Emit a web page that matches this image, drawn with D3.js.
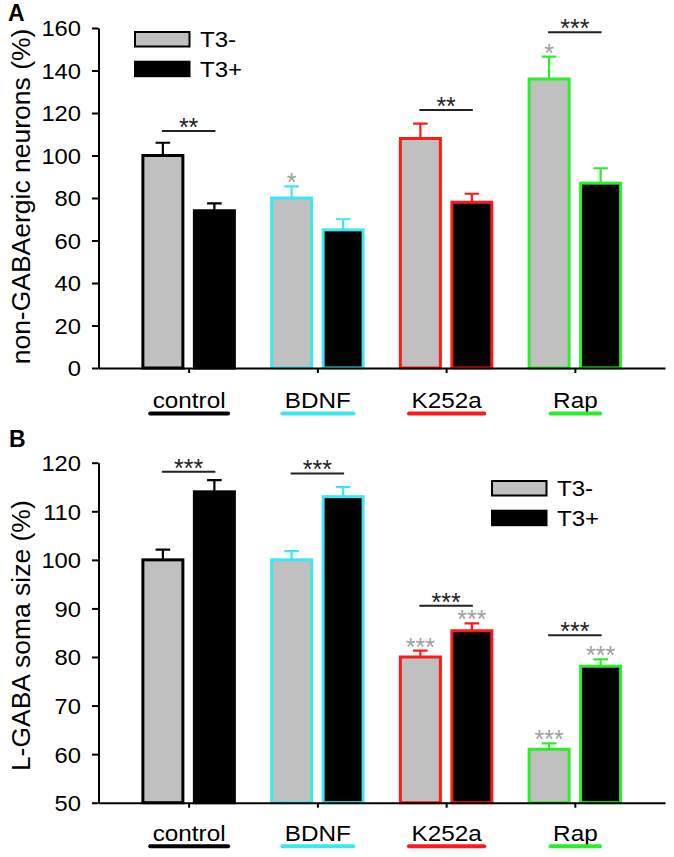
<!DOCTYPE html>
<html><head><meta charset="utf-8">
<script src="https://cdn.jsdelivr.net/npm/d3@7"></script>
<style>body{margin:0;background:#fff}svg{display:block}</style>
</head><body><svg id="c" width="674" height="857"></svg>
<script>
// ---------- data ----------
const categories = ["control", "BDNF", "K252a", "Rap"];
const seriesNames = ["T3-", "T3+"];

// Panel A: non-GABAergic neurons (%)
const aTicks = [0, 20, 40, 60, 80, 100, 120, 140, 160];
const aMinus = [100, 80, 108, 136];
const aMinusErr = [6, 5.5, 7, 10.5];
const aPlus = [74, 65, 78, 87];
const aPlusErr = [3.5, 5, 4, 7];
const aSigLabel = ["**", "", "**", "***"];
const aSigLevel = [111.5, null, 121.4, 158];
const aMinusVsCtrl = ["", "*", "", "*"];
const aPlusVsCtrl = ["", "", "", ""];

// Panel B: L-GABA soma size (%)
const bTicks = [50, 60, 70, 80, 90, 100, 110, 120];
const bMinus = [100, 100, 80, 61];
const bMinusErr = [2.1, 1.8, 1.3, 1.2];
const bPlus = [114, 113, 85.4, 78.1];
const bPlusErr = [2.4, 2, 1.5, 1.4];
const bSigLabel = ["***", "***", "***", "***"];
const bSigLevel = [118.15, 117.8, 90.55, 84.5];
const bMinusVsCtrl = ["", "", "***", "***"];
const bPlusVsCtrl = ["", "", "***", "***"];

// ---------- styles ----------
const FONT = "'Liberation Sans', Arial, Helvetica, sans-serif";
const catColor = {control: "#000000", BDNF: "#3ee6f0", K252a: "#ff1a1a", Rap: "#2bee2b"};
const seriesFill = {"T3-": "#c0c0c0", "T3+": "#000000"};
const SX = 1.1; // horizontal text stretch

const svg = d3.select("#c");
const x0 = d3.scalePoint().domain(categories).range([98.5, 665]).padding(0.7);
const x1 = d3.scaleBand().domain(seriesNames).range([-51.5, 51.5]);
const barW = 40;

function txt(parent, x, y, str, o = {}) {
  const t = parent.append("text")
    .attr("transform", `translate(${x},${y}) rotate(${o.rot || 0}) scale(${o.sx || SX},1)`)
    .attr("font-family", FONT)
    .attr("font-size", o.size || 21)
    .attr("font-weight", o.weight || "normal")
    .attr("fill", o.fill || "#000")
    .attr("text-anchor", o.anchor || "start")
    .text(str);
  return t;
}

function panel(o) {
  const g = svg.append("g");
  const y = d3.scaleLinear().domain(o.domain).range(o.range);
  const base = y(o.domain[0]);
  const rows = [];
  categories.forEach((c, i) => {
    rows.push({c, s: "T3-", v: o.minus[i], e: o.minusErr[i], star: o.minusStar[i]});
    rows.push({c, s: "T3+", v: o.plus[i], e: o.plusErr[i], star: o.plusStar[i]});
  });
  const cx = d => x0(d.c) + x1(d.s) + x1.bandwidth() / 2;

  // error bars
  g.selectAll(".eb").data(rows).join("path")
    .attr("d", d => `M${cx(d)},${y(d.v)}V${y(d.v + d.e)}M${cx(d) - 7.3},${y(d.v + d.e)}H${cx(d) + 7.3}`)
    .attr("stroke", d => catColor[d.c]).attr("stroke-width", 2.2).attr("fill", "none");

  // bars
  g.selectAll(".bar").data(rows).join("rect")
    .attr("x", d => cx(d) - barW / 2).attr("width", barW)
    .attr("y", d => y(d.v)).attr("height", d => base - y(d.v))
    .attr("fill", d => seriesFill[d.s])
    .attr("stroke", d => catColor[d.c]).attr("stroke-width", 3);

  // grey stars vs control
  rows.filter(d => d.star).forEach(d => {
    txt(g, cx(d), y(d.v + d.e) + 5, d.star, {size: 25, fill: "#a0a0a0", anchor: "middle", sx: 1});
  });

  // significance brackets
  categories.forEach((c, i) => {
    if (!o.sigLabel[i]) return;
    const xa = x0(c) + x1("T3-") + x1.bandwidth() / 2 - 1;
    const xb = x0(c) + x1("T3+") + x1.bandwidth() / 2 + 1;
    const ly = y(o.sigLevel[i]);
    g.append("line").attr("x1", xa).attr("x2", xb).attr("y1", ly).attr("y2", ly)
      .attr("stroke", "#222").attr("stroke-width", 2);
    txt(g, (xa + xb) / 2, ly + 5, o.sigLabel[i], {size: 25, fill: "#222", anchor: "middle", sx: 1});
  });

  // y axis
  const ya = g.append("g").attr("transform", "translate(98.5,0)")
    .call(d3.axisLeft(y).tickValues(o.ticks).tickSize(6.5).tickSizeOuter(0));
  ya.select(".domain").attr("stroke", "#000").attr("stroke-width", 2);
  ya.selectAll(".tick line").attr("stroke", "#000").attr("stroke-width", 2);
  ya.selectAll(".tick text")
    .attr("x", null).attr("dy", "0.36em")
    .attr("transform", `translate(-17.5,0) scale(1.08,1)`)
    .attr("font-family", FONT).attr("font-size", 22).attr("fill", "#000");

  // x axis
  const xa = g.append("g").attr("transform", `translate(0,${base})`)
    .call(d3.axisBottom(x0).tickSize(5).tickSizeOuter(0));
  xa.select(".domain").attr("stroke", "#000").attr("stroke-width", 2);
  xa.selectAll(".tick line").attr("stroke", "#000").attr("stroke-width", 2);
  xa.selectAll(".tick text")
    .attr("y", null).attr("dy", null)
    .attr("transform", `translate(0,${o.labelDy}) scale(1.08,1)`)
    .attr("font-family", FONT).attr("font-size", 22.5).attr("fill", "#000");
  xa.selectAll(".tick").each(function(c) {
    const t = d3.select(this).select("text");
    const w = t.node().getComputedTextLength() * 1.08;
    d3.select(this).append("line")
      .attr("x1", -w / 2 - 2.5).attr("x2", w / 2 + 2.5)
      .attr("y1", o.labelDy + 5.5).attr("y2", o.labelDy + 5.5)
      .attr("stroke", catColor[c]).attr("stroke-width", 4).attr("stroke-linecap", "round");
  });

  // y title
  txt(g, 30, (o.range[0] + o.range[1]) / 2 + o.titleShift, o.title,
      {size: 25, rot: -90, anchor: "middle", sx: 1.06});

  // legend
  seriesNames.forEach((s, i) => {
    const ly = o.legend[1] + i * 29.7;
    g.append("rect").attr("x", o.legend[0] + 1).attr("y", ly + 1)
      .attr("width", 54.5).attr("height", 14.5)
      .attr("fill", seriesFill[s]).attr("stroke", "#000").attr("stroke-width", 2);
    txt(g, o.legend[0] + 66, ly + 16, s, {size: 21.5, sx: 1.12});
  });

  // panel letter
  txt(g, o.letter[0], o.letter[1], o.letterText, {size: 23, weight: "bold", sx: 1});
}

panel({
  domain: [0, 160], range: [368, 28], ticks: aTicks,
  minus: aMinus, minusErr: aMinusErr, plus: aPlus, plusErr: aPlusErr,
  minusStar: aMinusVsCtrl, plusStar: aPlusVsCtrl,
  sigLabel: aSigLabel, sigLevel: aSigLevel,
  labelDy: 40, title: "non-GABAergic neurons (%)", titleShift: -1.5,
  legend: [134, 31], letter: [8, 21], letterText: "A"
});

panel({
  domain: [50, 120], range: [802.7, 462.7], ticks: bTicks,
  minus: bMinus, minusErr: bMinusErr, plus: bPlus, plusErr: bPlusErr,
  minusStar: bMinusVsCtrl, plusStar: bPlusVsCtrl,
  sigLabel: bSigLabel, sigLevel: bSigLevel,
  labelDy: 38, title: "L-GABA soma size (%)", titleShift: 3,
  legend: [491, 480], letter: [9, 447], letterText: "B"
});
</script></body></html>
